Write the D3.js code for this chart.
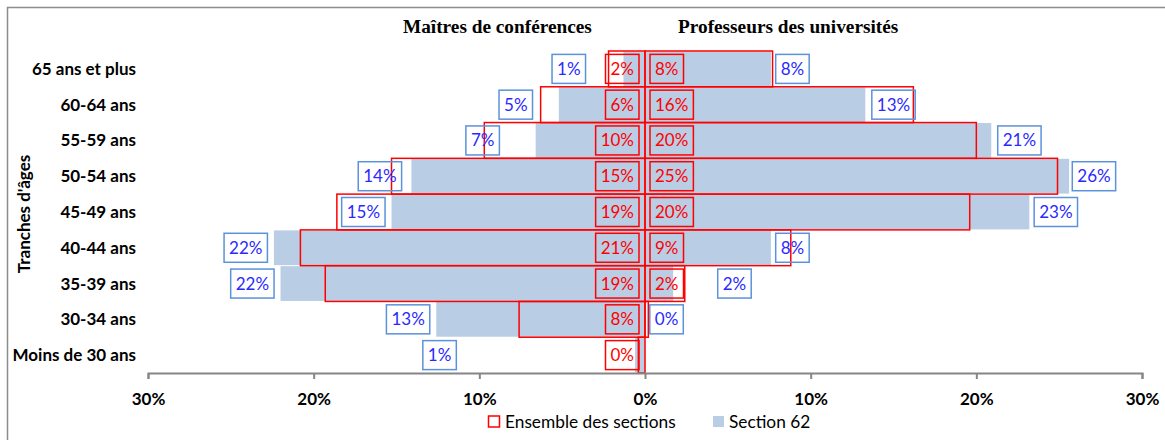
<!DOCTYPE html>
<html><head><meta charset="utf-8">
<script src="https://cdn.jsdelivr.net/npm/d3@7"></script>
<style>body{margin:0;background:#fff}svg{display:block}</style>
</head><body>
<svg id="chart" width="1165" height="440"></svg>
<script>
// ---- data ----
const categories = ["65 ans et plus","60-64 ans","55-59 ans","50-54 ans","45-49 ans","40-44 ans","35-39 ans","30-34 ans","Moins de 30 ans"];
// Section 62 (filled bars), in %
const mcfSection62 = [1.3, 5.2, 6.6, 14.1, 15.3, 22.4, 22.0, 12.6, 0.6];
const prSection62  = [7.6, 13.3, 20.9, 25.6, 23.2, 7.6, 1.7, 0, 0];
// Ensemble des sections (outlined bars), in %
const mcfEnsemble = [2.2, 6.3, 9.7, 15.3, 18.6, 20.8, 19.3, 7.6, 0.4];
const prEnsemble  = [7.7, 16.2, 20.0, 24.9, 19.6, 8.8, 2.4, 0.2, 0];
// where the Section 62 labels sit (value axis, %), null = no label
const mcfSection62LabelAt = [4.6, 7.8, 9.8, 16.0, 17.0, 24.1, 23.7, 14.3, 12.4];
const prSection62LabelAt  = [8.9, 15.0, 22.6, 27.1, 24.8, 8.9, 5.4, 1.3, null];
// which Ensemble labels are shown
const mcfEnsembleShown = [1,1,1,1,1,1,1,1,1];
const prEnsembleShown  = [1,1,1,1,1,1,1,0,0];
const tickValues = [-30,-20,-10,0,10,20,30];
const titles = ["Maîtres de conférences","Professeurs des universités"];
const legendLabels = ["Ensemble des sections","Section 62"];
const yTitle = "Tranches d'âges";

// ---- styles ----
const BLUE_FILL = "#b9cde4", RED = "#ff0000", BLUE_TEXT = "#2a2aff", BLUE_BORDER = "#5b92dc", AXIS = "#868686";
const FONT = "Lato, 'Open Sans', sans-serif";
const SERIF = "'Liberation Serif', 'Times New Roman', serif";

const svg = d3.select("#chart");
svg.append("rect").attr("x",7.5).attr("y",7.5).attr("width",1300).attr("height",600)
  .attr("fill","none").attr("stroke","#8c8c8c").attr("stroke-width",1.5);

const x = d3.scaleLinear().domain([-30,30]).range([148,1142]);
const y = d3.scaleBand().domain(categories).range([51,373]).paddingInner(0);
const bw = y.bandwidth();
const pct = d3.format(".0f");

// blue bars
const g = svg.append("g");
categories.forEach((c,i)=>{
  const y0 = y(c)+0.5, h = bw-1;
  if (mcfSection62[i]>0) g.append("rect").attr("x",x(-mcfSection62[i])).attr("y",y0)
    .attr("width",x(0)-x(-mcfSection62[i])).attr("height",h).attr("fill",BLUE_FILL);
  if (prSection62[i]>0) g.append("rect").attr("x",x(0)).attr("y",y0)
    .attr("width",x(prSection62[i])-x(0)).attr("height",h).attr("fill",BLUE_FILL);
});
// red outlined bars
categories.forEach((c,i)=>{
  const y0 = y(c), h = bw;
  g.append("rect").attr("x",x(-mcfEnsemble[i])).attr("y",y0)
    .attr("width",Math.max(0,x(0)-x(-mcfEnsemble[i]))).attr("height",h)
    .attr("fill","none").attr("stroke",RED).attr("stroke-width",1.5);
  if (prEnsemble[i]>0) g.append("rect").attr("x",x(0)).attr("y",y0)
    .attr("width",x(prEnsemble[i])-x(0)).attr("height",h)
    .attr("fill","none").attr("stroke",RED).attr("stroke-width",1.5);
});

// labels with boxes
function boxLabel(txt, xpos, anchor, cy, color, border){
  const lg = svg.append("g");
  const t = lg.append("text").text(txt).attr("font-family",FONT).attr("font-size",17)
    .attr("fill",color).attr("y",cy+6);
  const w = t.node().getComputedTextLength();
  const bwid = w+10;
  let left;
  if (anchor==="middle") left = xpos - bwid/2;
  else if (anchor==="end") left = xpos - bwid;
  else left = xpos;
  t.attr("x",left+bwid/2).attr("text-anchor","middle");
  lg.insert("rect","text").attr("x",left).attr("y",cy-14.5).attr("width",bwid).attr("height",29)
    .attr("fill","none").attr("stroke",border).attr("stroke-width",1.5);
}
categories.forEach((c,i)=>{
  const cy = y(c)+bw/2;
  if (mcfSection62LabelAt[i]!=null) boxLabel(pct(mcfSection62[i])+"%", x(-mcfSection62LabelAt[i]), "middle", cy, BLUE_TEXT, BLUE_BORDER);
  if (prSection62LabelAt[i]!=null) boxLabel(pct(prSection62[i])+"%", x(prSection62LabelAt[i]), "middle", cy, BLUE_TEXT, BLUE_BORDER);
  if (mcfEnsembleShown[i]) boxLabel(pct(mcfEnsemble[i])+"%", x(0)-6, "end", cy, RED, RED);
  if (prEnsembleShown[i]) boxLabel(pct(prEnsemble[i])+"%", x(0)+5, "start", cy, RED, RED);
});

// category labels
svg.append("g").selectAll("text").data(categories).join("text")
  .attr("x",136).attr("y",d=>y(d)+bw/2+6).attr("text-anchor","end")
  .attr("font-family",FONT).attr("font-weight","bold").attr("font-size",17).attr("fill","#000")
  .text(d=>d);

// x axis
const axis = d3.axisBottom(x).tickValues(tickValues).tickSize(6).tickFormat(d=>Math.abs(d)+"%");
const ax = svg.append("g").attr("transform","translate(0,373)").call(axis);
ax.select(".domain").attr("stroke",AXIS).attr("stroke-width",2);
ax.selectAll(".tick line").attr("stroke",AXIS).attr("stroke-width",2);
ax.selectAll(".tick text").attr("font-family",FONT).attr("font-weight","bold").attr("font-size",17)
  .attr("fill","#000").attr("dy",0).attr("y",32);

// titles
svg.append("text").attr("x",403).attr("y",33).text(titles[0])
  .attr("font-family",SERIF).attr("font-weight","bold").attr("font-size",19.3);
svg.append("text").attr("x",678).attr("y",33).text(titles[1])
  .attr("font-family",SERIF).attr("font-weight","bold").attr("font-size",19.3);

// y title
svg.append("text").attr("transform","translate(30,214) rotate(-90)").attr("text-anchor","middle")
  .attr("font-family",FONT).attr("font-weight","bold").attr("font-size",17).text(yTitle);

// legend
svg.append("rect").attr("x",488.5).attr("y",416).attr("width",11).attr("height",11)
  .attr("fill","none").attr("stroke",RED).attr("stroke-width",1.5);
svg.append("text").attr("x",505).attr("y",428).text(legendLabels[0])
  .attr("font-family",FONT).attr("font-size",17.3).attr("fill","#000");
svg.append("rect").attr("x",713).attr("y",416).attr("width",11).attr("height",11).attr("fill",BLUE_FILL);
svg.append("text").attr("x",729).attr("y",428).text(legendLabels[1])
  .attr("font-family",FONT).attr("font-size",17.3).attr("fill","#000");
</script>
</body></html>
